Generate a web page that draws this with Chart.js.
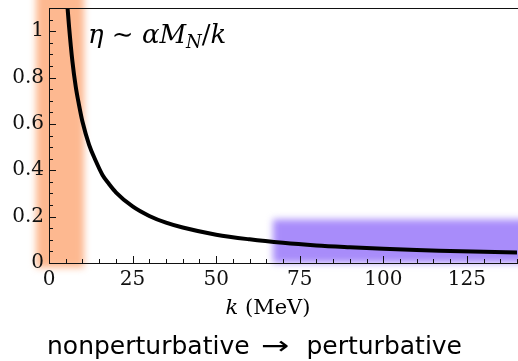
<!DOCTYPE html>
<html>
<head>
<meta charset="utf-8">
<script src="https://cdn.jsdelivr.net/npm/chart.js@4.4.1/dist/chart.umd.min.js"></script>
<style>
html,body{margin:0;padding:0;background:#fff;}
canvas{display:block;}
</style>
</head>
<body>
<canvas id="c" width="518" height="361"></canvas>
<script>
// ---- data ----
const kValues   = [5.5, 6, 7, 8, 9, 10, 12, 14, 16, 18, 20, 25, 30, 35, 40, 50, 60, 70, 80, 90, 100, 110, 120, 130, 140];
const etaValues = [1.11, 1.02, 0.87, 0.76, 0.68, 0.61, 0.51, 0.44, 0.38, 0.34, 0.305, 0.244, 0.203, 0.174, 0.153, 0.122, 0.102, 0.087, 0.076, 0.068, 0.061, 0.056, 0.052, 0.048, 0.045];
const xTickLabels = [0, 25, 50, 75, 100, 125];
const yTickLabels = [0, 0.2, 0.4, 0.6, 0.8, 1];
// shaded regions [kFrom, kTo, etaFrom, etaTo]
const nonpertBand = [-3.9, 10.5, -0.02, 1.3];
const pertBand    = [67, 160, 0.0, 0.188];

const SERIF = '"DejaVu Serif", serif';
const SANS  = '"DejaVu Sans", sans-serif';

const bandsPlugin = {
  id: 'bands',
  beforeDraw(chart) {
    const {ctx} = chart;
    const xs = chart.scales.x, ys = chart.scales.y;
    ctx.save();
    ctx.fillStyle = '#fff';
    ctx.fillRect(0, 0, chart.width, chart.height);
    const drawBand = (b, color) => {
      const x0 = xs.getPixelForValue(b[0]), x1 = xs.getPixelForValue(b[1]);
      const y0 = ys.getPixelForValue(b[3]), y1 = ys.getPixelForValue(b[2]);
      ctx.filter = 'blur(3.5px)';
      ctx.fillStyle = color;
      ctx.fillRect(x0, y0, x1 - x0, y1 - y0);
      ctx.filter = 'none';
    };
    drawBand(nonpertBand, 'rgb(253,184,144)');
    drawBand(pertBand, 'rgb(168,140,250)');
    ctx.restore();
  }
};

const ticksPlugin = {
  id: 'innerTicks',
  afterDraw(chart) {
    const {ctx, chartArea: a} = chart;
    const xs = chart.scales.x, ys = chart.scales.y;
    ctx.save();
    ctx.strokeStyle = '#111';
    ctx.lineWidth = 1;
    ctx.beginPath();
    // top frame
    ctx.moveTo(a.left, a.top + 0.5);
    ctx.lineTo(a.right + 1, a.top + 0.5);
    // x ticks (minor every 5)
    for (let v = 0; v <= 140 + 1e-9; v += 5) {
      const px = Math.round(xs.getPixelForValue(v)) + 0.5;
      const len = (v % 25 === 0) ? 7 : 4;
      ctx.moveTo(px, a.bottom);
      ctx.lineTo(px, a.bottom - len);
    }
    // y ticks (minor every 0.05)
    for (let i = 0; i <= 22; i++) {
      const v = i * 0.05;
      const py = Math.round(ys.getPixelForValue(v)) + 0.5;
      const len = (i % 4 === 0) ? 7 : 4;
      ctx.moveTo(a.left, py);
      ctx.lineTo(a.left + len, py);
    }
    ctx.stroke();

    // texts
    ctx.fillStyle = '#000';
    ctx.textBaseline = 'alphabetic';
    // annotation eta ~ alpha M_N / k
    let x = 88, y = 43;
    const put = (t, font, dy = 0) => {
      ctx.font = font;
      ctx.fillText(t, x, y + dy);
      x += ctx.measureText(t).width;
    };
    put('η', 'italic 26px ' + SERIF);
    put(' ∼ ', '26px ' + SERIF);
    put('α', 'italic 26px ' + SERIF);
    put('M', 'italic 26px ' + SERIF);
    put('N', 'italic 18px ' + SERIF, 5);
    put('/', '26px ' + SERIF);
    put('k', 'italic 26px ' + SERIF);

    // x axis title: k (MeV)
    ctx.font = 'italic 21px ' + SERIF;
    const w1 = ctx.measureText('k').width;
    ctx.font = '21px ' + SERIF;
    const w2 = ctx.measureText(' (MeV)').width;
    let tx = 268 - (w1 + w2) / 2;
    ctx.font = 'italic 21px ' + SERIF;
    ctx.fillText('k', tx, 314);
    ctx.font = '21px ' + SERIF;
    ctx.fillText(' (MeV)', tx + w1, 314);

    // bottom caption
    ctx.font = '25px ' + SANS;
    ctx.textAlign = 'left';
    ctx.fillText('nonperturbative', 47, 354);
    ctx.textAlign = 'right';
    ctx.fillText('perturbative', 462, 354);
    ctx.textAlign = 'center';
    ctx.save();
    ctx.translate(275, 354);
    ctx.scale(1.35, 1);
    ctx.fillText('→', 0, 0);
    ctx.restore();
    ctx.restore();
  }
};

new Chart(document.getElementById('c'), {
  type: 'line',
  data: {
    datasets: [{
      data: kValues.map((k, i) => ({x: k, y: etaValues[i]})),
      borderColor: '#000',
      borderWidth: 4,
      pointRadius: 0,
      fill: false,
      cubicInterpolationMode: 'monotone',
      clip: 0
    }]
  },
  options: {
    responsive: false,
    animation: false,
    devicePixelRatio: 1,
    layout: {padding: {left: 0, top: 8, right: 1, bottom: 0}},
    plugins: {legend: {display: false}, tooltip: {enabled: false}},
    scales: {
      x: {
        type: 'linear', min: 0, max: 140,
        afterFit(s) { s.height = 98; s.paddingLeft = 0; s.paddingRight = 0; },
        afterBuildTicks(s) { s.ticks = xTickLabels.map(v => ({value: v})); },
        grid: {display: false, drawTicks: false},
        border: {display: true, color: '#111', width: 1},
        ticks: {color: '#111', font: {family: SERIF, size: 20}, padding: 5,
                callback: v => String(v)}
      },
      y: {
        type: 'linear', min: 0, max: 1.1,
        afterFit(s) { s.width = 49; s.paddingTop = 0; s.paddingBottom = 0; },
        afterBuildTicks(s) { s.ticks = yTickLabels.map(v => ({value: v})); },
        grid: {display: false, drawTicks: false},
        border: {display: true, color: '#111', width: 1},
        ticks: {color: '#111', font: {family: SERIF, size: 20}, padding: 5,
                callback: v => String(Number(v.toFixed(2)))}
      }
    }
  },
  plugins: [bandsPlugin, ticksPlugin]
});
</script>
</body>
</html>
